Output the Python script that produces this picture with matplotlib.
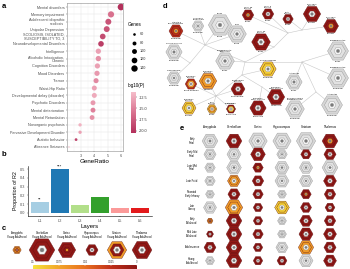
import numpy as np
import matplotlib
matplotlib.use("Agg")
import matplotlib.pyplot as plt
from matplotlib.colors import LinearSegmentedColormap, Normalize
from matplotlib.patches import RegularPolygon
import matplotlib.colorbar as mcolorbar

plt.rcParams['font.family'] = ['Liberation Sans', 'DejaVu Sans']

W, H = 350, 269

# ---------------- panel a: disease enrichment
diseases = ["Mental disorders", "Memory impairment", "Adolescent idiopathic\nscoliosis",
            "Unipolar Depression", "SCOLIOSIS, ISOLATED,\nSUSCEPTIBILITY TO, 3",
            "Neurodevelopmental Disorders", "Intelligence", "Alcoholic Intoxication,\nChronic",
            "Cognition Disorders", "Mood Disorders", "Tremor", "Waist-Hip Ratio",
            "Developmental delay (disorder)", "Psychotic Disorders", "Mental deterioration",
            "Mental Retardation", "Nonorganic psychosis", "Pervasive Development Disorder",
            "Autistic behavior", "Absence Seizures"]
gene_ratio = [6.0, 5.25, 5.05, 4.93, 4.63, 4.5, 4.3, 4.3, 4.23, 4.2, 4.13, 4.0, 4.0,
              3.9, 3.9, 3.83, 2.93, 2.93, 2.63, 2.1]
gene_count = [148, 135, 128, 126, 120, 118, 110, 112, 108, 108, 104, 102, 102, 100,
              100, 98, 70, 70, 62, 48]
log10p = [-20.5, -16.0, -18.0, -18.0, -18.5, -19.5, -13.0, -14.0, -13.0, -13.5, -14.5,
          -13.0, -12.5, -13.5, -15.0, -14.0, -12.0, -13.0, -19.0, -12.0]
legend_genes = [60, 80, 100, 120, 140]
p_ticks = [-12.5, -15.0, -17.5, -20.0]

# ---------------- panel b: layers
layers = ["L1", "L2", "L3", "L4", "L5", "L6"]
prop_r2 = [0.12, 0.50, 0.085, 0.18, 0.055, 0.055]
stars = ["**", "***", "", "", "", ""]
layer_colors = ["#a6cee3", "#1f78b4", "#b2df8a", "#33a02c", "#fb9a99", "#e31a1c"]

# ---------------- hexagon glyphs (p-value per specificity level, '-' = n.s.)
code_p = {"R": 0.003, "D": 0.022, "O": 0.07, "Y": 0.092}
pv_ticks = [0.1, 0.075, 0.05, 0.025, 0]
pv_labels = ["0.1", "0.075", "0.05", "0.025", "0"]

# panel c
c_regions = ["Amygdala\nYoung Adulthood", "Cerebellum\nYoung Adulthood", "Cortex\nYoung Adulthood",
             "Hippocampus\nYoung Adulthood", "Striatum\nYoung Adulthood", "Thalamus\nYoung Adulthood"]
c_codes = ["OOD-", "RR--", "RRRO", "RR--", "OR--", "RR--"]
c_genes = [36, 336, 156, 75, 191, 200]

# panel e
e_regions = ["Amygdala", "Cerebellum", "Cortex", "Hippocampus", "Striatum", "Thalamus"]
e_stages = ["Early\nFetal", "Early Mid\nFetal", "Late Mid\nFetal", "Late Fetal",
            "Neonatal\nEarly Infancy", "Late\nInfancy", "Early\nChildhood",
            "Mid Late\nChildhood", "Adolescence", "Young\nAdulthood"]
e_codes = [
    ["----", "RR--", "----", "----", "----", "RRO-"],
    ["----", "----", "RR--", "----", "RR--", "RR--"],
    ["----", "----", "RRO-", "----", "----", "----"],
    ["----", "OO--", "RR--", "----", "----", "RR--"],
    ["----", "RR--", "RR--", "----", "RRO-", "RR--"],
    ["----", "OO--", "RR--", "YY--", "RR--", "RR--"],
    ["OOR-", "RR--", "RR--", "----", "RR--", "RR--"],
    ["RR--", "RR--", "RR--", "----", "RR--", "RR--"],
    ["RR--", "RR--", "RR--", "----", "OO--", "RR--"],
    ["----", "RR--", "RR--", "RR--", "----", "RR--"],
]
e_genes = [
    [127, 127, 174, 170, 190, 127],
    [76, 101, 110, 56, 56, 76],
    [56, 110, 56, 101, 89, 127],
    [56, 86, 68, 101, 89, 86],
    [40, 76, 56, 40, 56, 68],
    [86, 155, 46, 110, 63, 50],
    [18, 127, 46, 40, 81, 68],
    [25, 127, 56, 40, 101, 86],
    [73, 127, 46, 76, 120, 76],
    [42, 127, 46, 50, 101, 86],
]

# panel d
d_cells = ["Stellate &\nBasket Neurons", "Unipolar &\nBrush Cells", "Cones", "Rods",
           "Granule Neurons", "Golgi Neurons", "Layer 5b\nNeurons", "Layer 6\nNeurons",
           "Cort+\nNeurons", "D1+ Spiny\nNeurons", "D2+ Spiny\nNeurons", "Layer 5a\nNeurons",
           "Oligodendrocyte\nProgenitors", "Purkinje Neurons", "Oligodendrocytes",
           "Oligodendrocytes", "Astrocytes", "Astrocytes", "Bergmann Glia &\nOligodendrocytes",
           "Dopaminergic\nNeurons", "Cholinergic\nMotor Neurons", "Cholinergic\nMotor Neurons",
           "Serotonergic\nNeurons", "Pnoc\nNeurons", "Cholinergic\nNeurons",
           "Cholinergic\nNeurons", "Cholinergic\nNeurons"]
d_tissue = ["Cerebellum", "Cerebellum", "Retina", "Retina", "Cerebellum", "Cerebellum",
            "Cortex", "Cortex", "Cortex", "Striatum", "Striatum", "Cortex", "Cortex",
            "Cerebellum", "Cortex", "Cerebellum", "Cortex", "Cerebellum", "Cerebellum",
            "Hypothalamus", "Spinal cord", "Brain stem", "Brain stem", "Cortex", "Striatum",
            "Habenula", "Basal Forebrain"]
d_codes = ["DDO-", "----", "----", "----", "----", "----", "RRO-", "RR--", "RR--", "RR--",
           "RRO-", "RR--", "----", "YY--", "----", "----", "----", "----", "----", "RR--",
           "RR--", "RR--", "RY--", "YO--", "YY--", "OO--", "DO--"]
d_genes = [100, 69, 278, 178, 136, 100, 69, 69, 56, 156, 117, 178, 178, 136, 225, 225,
           136, 225, 178, 100, 156, 136, 44, 49, 100, 156, 69]

# layout of the panel-d tree (pixel positions)
d_xy = [(176, 31), (198, 26), (220, 25), (237, 34), (174, 52), (174, 78), (248, 15),
        (268, 14), (288, 19), (312, 14), (331, 26), (261, 42), (225, 61), (268, 69),
        (338, 51), (338, 78), (294, 82), (332, 105), (295, 109), (238, 89), (276, 97),
        (258, 108), (231, 109), (212, 109), (189, 108), (208, 81), (191, 84)]
inner = {"i0": (245, 62), "i1": (205, 45), "i2": (190, 63), "i3": (274, 47),
         "i4": (288, 33), "i5": (302, 30), "i6": (302, 62), "i7": (316, 92),
         "i8": (242, 75), "i9": (262, 87), "i10": (216, 96)}
edges = [("i0", "i1"), ("i1", 0), ("i1", 1), ("i1", 2), ("i1", 3), ("i1", "i2"), ("i2", 4),
         ("i2", 5), ("i0", 12), ("i0", "i3"), ("i3", 11), ("i3", "i4"), ("i4", 6), ("i4", 7),
         ("i4", "i5"), ("i5", 8), ("i5", 9), ("i5", 10), ("i0", "i6"), ("i6", 14), ("i6", 15),
         ("i6", 16), ("i6", "i7"), ("i7", 17), ("i7", 18), ("i0", "i8"), ("i8", 13),
         ("i8", "i9"), ("i9", 20), ("i9", 21), ("i8", "i10"), ("i10", 19), ("i10", 25),
         ("i10", 26), ("i10", 24), ("i10", 23), ("i10", 22)]

pink = LinearSegmentedColormap.from_list("pink", ["#b3305b", "#d9728f", "#f5bdca"])
pnorm = Normalize(-20.5, -11.3)
pv_cmap = LinearSegmentedColormap.from_list(
    "pv", ["#8b1515", "#c0301a", "#e8701e", "#f2a52a", "#f5e23a"])
pv_norm = Normalize(0, 0.1)
ns_face = ["#d6d6d6", "#e2e2e2", "#f4f4f4", "#7a7a7a"]
fracs = [1.0, 0.72, 0.38, 0.17]

fig = plt.figure(figsize=(W / 100, H / 100), dpi=100)


def px_axes(x0, y0, x1, y1):
    return fig.add_axes([x0 / W, 1 - y1 / H, (x1 - x0) / W, (y1 - y0) / H])


def dot_size(g):
    d = 1.15 * np.sqrt(max(-14 + 0.32 * g, 0.8))
    return (0.72 * d) ** 2


def glyph(ax, x, y, n, code):
    r = 0.7 * np.sqrt(n)
    for lvl, ch in enumerate(code):
        if ch == "-":
            fc, ec = ns_face[lvl], "#8c8c8c"
        else:
            fc, ec = pv_cmap(pv_norm(code_p[ch])), "#5a1010"
        ax.add_patch(RegularPolygon((x, y), 6, radius=r * fracs[lvl], orientation=np.pi / 6,
                                    facecolor=fc, edgecolor=ec, linewidth=0.25, zorder=3))
    return r


# overlay axes in pixel coordinates
ax_h = fig.add_axes([0, 0, 1, 1])
ax_h.set_xlim(0, W)
ax_h.set_ylim(H, 0)
ax_h.axis("off")

for lab, (x, y) in zip("abcde", [(2, 6), (2, 154), (2, 228), (163, 6), (180, 128)]):
    ax_h.text(x, y, lab, fontsize=5.5, fontweight="bold", ha="left", va="center")

# ---- panel a
ax_a = px_axes(67, 2.6, 123, 151.4)
ypos = np.arange(len(diseases))
ax_a.scatter(gene_ratio, ypos, s=[dot_size(g) for g in gene_count], c=log10p,
             cmap=pink, norm=pnorm, linewidths=0, zorder=3)
ax_a.set_ylim(len(diseases) - 0.4, -0.6)
ax_a.set_xlim(1.95, 6.15)
ax_a.set_yticks(ypos)
ax_a.set_yticklabels(diseases, fontsize=2.7, color="#4d4d4d", linespacing=0.85)
ax_a.set_xticks([3, 4, 5, 6])
ax_a.set_xticks([2.5, 3.5, 4.5, 5.5], minor=True)
ax_a.tick_params(axis="both", length=1, width=0.3, pad=0.8, labelsize=2.7, colors="#4d4d4d")
ax_a.tick_params(axis="x", which="minor", length=0)
ax_a.grid(True, which="major", color="#e6e6e6", linewidth=0.35)
ax_a.grid(True, which="minor", axis="x", color="#f2f2f2", linewidth=0.25)
ax_a.set_axisbelow(True)
for s in ax_a.spines.values():
    s.set_color("#8c8c8c")
    s.set_linewidth(0.4)
ax_a.set_xlabel("GeneRatio", fontsize=4.5, labelpad=1)

# size legend
ax_h.text(128, 25, "Genes", fontsize=3.3, ha="left", va="center")
for k, g in enumerate(legend_genes):
    yy = 34 + 8.5 * k
    ax_h.scatter([134], [yy], s=dot_size(g), color="black", linewidths=0)
    ax_h.text(140, yy, str(g), fontsize=2.7, ha="left", va="center", color="#333333")

# colour legend
ax_h.text(128, 86, "log10(P)", fontsize=3.3, ha="left", va="center")
cax = px_axes(131, 92, 136, 133)
cb = mcolorbar.ColorbarBase(cax, cmap=pink, norm=pnorm, orientation="vertical")
cb.set_ticks(p_ticks)
cb.set_ticklabels([f"{t:.1f}" for t in p_ticks])
cb.outline.set_visible(False)
cax.tick_params(length=1, width=0.3, labelsize=2.7, pad=0.8, colors="#333333")

# ---- panel b
ax_b = px_axes(28, 166, 152, 216)
xb = np.arange(1, len(layers) + 1)
ax_b.bar(xb, prop_r2, width=0.9, color=layer_colors)
for x, v, st in zip(xb, prop_r2, stars):
    if st:
        ax_b.text(x, v + 0.005, st, fontsize=3.2, ha="center", va="bottom")
ax_b.set_xlim(0.4, 6.6)
ax_b.set_ylim(-0.035, 0.535)
ax_b.set_xticks(xb)
ax_b.set_xticklabels(layers)
ax_b.set_yticks([0, 0.1, 0.2, 0.3, 0.4, 0.5])
ax_b.tick_params(length=1, width=0.3, pad=0.8, labelsize=2.8, colors="#4d4d4d")
ax_b.spines[["top", "right"]].set_visible(False)
ax_b.spines[["left", "bottom"]].set_linewidth(0.4)
ax_b.set_xlabel("Layers", fontsize=4.3, labelpad=0.8)
ax_b.set_ylabel("Proportion of R2", fontsize=3.8, labelpad=1.5)

# ---- panel c
for j, (lab, code, n) in enumerate(zip(c_regions, c_codes, c_genes)):
    x = 17 + 25 * j
    glyph(ax_h, x, 250, n, code)
    ax_h.text(x, 235, lab, fontsize=1.9, ha="center", va="center", linespacing=0.9)
cax2 = px_axes(33, 264.5, 137, 268.5)
cb2 = mcolorbar.ColorbarBase(cax2, cmap=pv_cmap, norm=pv_norm, orientation="horizontal")
cax2.invert_xaxis()
cb2.set_ticks(pv_ticks)
cb2.set_ticklabels(pv_labels)
cb2.outline.set_visible(False)
cax2.xaxis.set_ticks_position("top")
cax2.tick_params(length=1, width=0.3, direction="in", color="white", labelsize=1.9,
                 pad=0.6, labelcolor="#333333")

# ---- panel d
def node_xy(k):
    return inner[k] if isinstance(k, str) else d_xy[k]


for a, b in edges:
    (x0, y0), (x1, y1) = node_xy(a), node_xy(b)
    ax_h.plot([x0, x1], [y0, y1], color="#c8c8c8", linewidth=0.4, zorder=1)
for (x, y), name, tis, code, n in zip(d_xy, d_cells, d_tissue, d_codes, d_genes):
    r = glyph(ax_h, x, y, n, code)
    ax_h.text(x, y - r * 0.87 - 0.6, name, fontsize=1.5, ha="center", va="bottom",
              linespacing=0.85, zorder=4)
    ax_h.text(x, y + r * 0.87 + 0.5, tis, fontsize=1.5, ha="center", va="top", zorder=4)

# ---- panel e
for j, reg in enumerate(e_regions):
    ax_h.text(210 + 24 * j, 127, reg, fontsize=2.1, ha="center", va="center")
for i, st in enumerate(e_stages):
    y = 141 + 13.3 * i
    ax_h.text(192, y, st, fontsize=1.8, ha="center", va="center", linespacing=0.9)
    for j in range(len(e_regions)):
        glyph(ax_h, 210 + 24 * j, y, e_genes[i][j], e_codes[i][j])

fig.savefig("out.png", dpi=100)
